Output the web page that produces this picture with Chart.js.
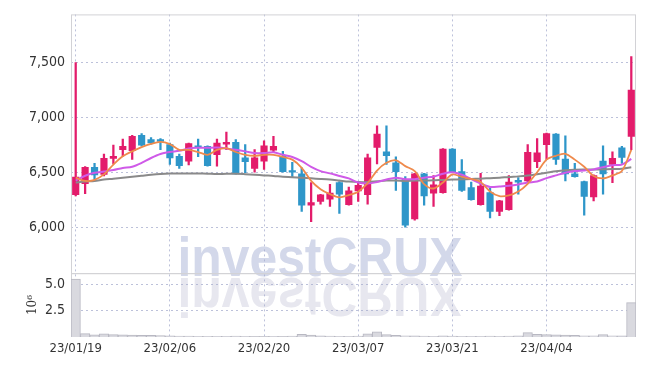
<!DOCTYPE html>
<html><head><meta charset="utf-8">
<script src="https://cdn.jsdelivr.net/npm/chart.js@4/dist/chart.umd.min.js"></script>
<style>html,body{margin:0;padding:0;background:#fff}</style>
</head><body>
<canvas id="c" width="645" height="366" style="display:block;width:645px;height:366px"></canvas>
<script>
// ---------- data ----------
const dates = ['23/01/19','23/01/20','23/01/25','23/01/26','23/01/27','23/01/30','23/01/31','23/02/01','23/02/02','23/02/03',
 '23/02/06','23/02/07','23/02/08','23/02/09','23/02/10','23/02/13','23/02/14','23/02/15','23/02/16','23/02/17',
 '23/02/20','23/02/21','23/02/22','23/02/23','23/02/24','23/02/27','23/02/28','23/03/02','23/03/03','23/03/06',
 '23/03/07','23/03/08','23/03/09','23/03/10','23/03/13','23/03/14','23/03/15','23/03/16','23/03/17','23/03/20',
 '23/03/21','23/03/22','23/03/23','23/03/24','23/03/27','23/03/28','23/03/29','23/03/30','23/03/31','23/04/03',
 '23/04/04','23/04/05','23/04/06','23/04/07','23/04/10','23/04/11','23/04/12','23/04/13','23/04/14','23/04/17'];

const open = [6300,6400,6550,6485,6630,6710,6700,6840,6800,6800, 6755,6650,6605,6745,6740,6665,6760,6775,6635,6540,
 6605,6705,6650,6515,6490,6205,6240,6260,6410,6210, 6335,6300,6730,6690,6590,6440,6080,6490,6315,6320,
 6715,6510,6365,6210,6320,6150,6165,6430,6425,6600, 6755,6850,6625,6490,6420,6280,6605,6575,6725,6830];
const close = [6460,6550,6480,6630,6650,6740,6830,6750,6770,6785, 6635,6565,6765,6730,6565,6770,6775,6490,6600,6635,
 6745,6740,6510,6505,6205,6230,6300,6315,6305,6335, 6385,6635,6850,6655,6510,6025,6490,6290,6390,6715,
 6505,6340,6255,6380,6150,6245,6415,6415,6685,6680, 6855,6620,6490,6465,6285,6475,6490,6630,6640,7250];
const high = [7500,6555,6585,6670,6750,6805,6840,6855,6820,6810, 6770,6670,6770,6805,6745,6805,6870,6800,6755,6710,
 6790,6830,6695,6595,6545,6410,6305,6395,6420,6370, 6410,6670,6925,6925,6645,6465,6495,6495,6475,6720,
 6720,6620,6415,6495,6360,6250,6475,6455,6755,6810, 6860,6855,6835,6585,6425,6480,6745,6690,6740,7555];
const low = [6290,6310,6440,6470,6580,6650,6620,6740,6760,6710, 6575,6540,6570,6645,6560,6560,6710,6488,6500,6505,
 6530,6685,6505,6455,6150,6055,6215,6195,6130,6205, 6240,6215,6580,6575,6340,6005,6070,6205,6195,6315,
 6510,6330,6250,6205,6090,6110,6160,6305,6420,6545, 6620,6575,6425,6460,6115,6245,6305,6410,6585,6710];

const ma5 = [6455,6426,6435,6485,6574,6649,6694,6732,6762,6780, 6760,6708,6708,6688,6663,6708,6723,6688,6663,6654,
 6663,6663,6643,6619,6545,6426,6351,6306,6277,6297, 6328,6405,6520,6590,6613,6560,6515,6397,6357,6411,
 6485,6462,6444,6416,6330,6288,6295,6330,6400,6505, 6619,6654,6672,6619,6554,6471,6449,6476,6515,6708];
const ma20 = [6429,6473,6500,6511,6524,6543,6554,6589,6634,6670, 6688,6699,6721,6726,6726,6728,6721,6708,6694,6679,
 6679,6685,6663,6643,6605,6554,6515,6494,6471,6449, 6411,6402,6415,6438,6455,6442,6442,6455,6464,6491,
 6504,6482,6442,6402,6371,6375,6381,6393,6411,6420, 6451,6476,6500,6515,6521,6530,6551,6569,6574,6625];
const ma60 = [6411,6420,6426,6438,6446,6455,6464,6473,6482,6489, 6493,6494,6494,6493,6491,6488,6491,6491,6487,6482,
 6476,6471,6464,6460,6455,6449,6444,6438,6429,6420, 6415,6415,6422,6429,6429,6426,6429,6429,6431,6435,
 6438,6440,6444,6446,6451,6455,6462,6467,6475,6487, 6500,6513,6522,6527,6529,6530,6531,6533,6536,6549];

const volume = [5530000,320000,200000,300000,220000,200000,180000,150000,150000,130000,
 100000,80000,80000,70000,70000,60000,70000,80000,60000,50000,
 50000,60000,50000,80000,250000,180000,100000,80000,70000,60000,
 80000,300000,500000,220000,150000,120000,100000,80000,70000,100000,
 80000,70000,60000,60000,80000,60000,80000,100000,420000,250000,
 220000,200000,180000,150000,120000,120000,220000,120000,100000,3290000];

const priceTicks = [6000, 6500, 7000, 7500];
const volumeTicks = [2500000, 5000000];

// ---------- styling ----------
const PINK = '#e31c6b', BLUE = '#2e96c9';
const GRID = 'rgba(165,172,205,0.75)';
const FONT = '"DejaVu Sans Condensed", "Liberation Sans", sans-serif';
const candleColors = close.map((c, i) => c >= open[i] ? PINK : BLUE);

const watermark = {
  id: 'wm',
  beforeDraw(chart) {
    const ctx = chart.ctx;
    ctx.save();
    ctx.fillStyle = '#fff';
    ctx.fillRect(0, 0, chart.width, chart.height);
    const text = 'investCRUX';
    ctx.font = 'bold 56px "Liberation Sans", Arial, sans-serif';
    const w = ctx.measureText(text).width;
    const sx = 285 / w;
    ctx.textAlign = 'center';
    ctx.textBaseline = 'alphabetic';
    ctx.save(); ctx.translate(320, 276); ctx.scale(sx, 1);
    ctx.fillStyle = '#d3d8ea'; ctx.fillText(text, 0, 0); ctx.restore();
    ctx.save(); ctx.translate(320, 278); ctx.scale(sx, -1);
    ctx.fillStyle = '#e7e7ef'; ctx.fillText(text, 0, 0); ctx.restore();
    ctx.restore();
  }
};

const boxes = {
  id: 'boxes',
  beforeDatasetsDraw(chart) {
    const {ctx, chartArea} = chart;
    const y = chart.scales.y, y2 = chart.scales.y2;
    ctx.save();
    ctx.strokeStyle = '#d2d2d6';
    ctx.lineWidth = 1;
    ctx.strokeRect(chartArea.left + 0.5, y.top + 0.5, chartArea.right - chartArea.left - 1, y.bottom - y.top);
    ctx.strokeRect(chartArea.left + 0.5, y2.top + 0.5, chartArea.right - chartArea.left - 1, y2.bottom - y2.top - 1);
    ctx.restore();
  }
};

new Chart(document.getElementById('c'), {
  type: 'bar',
  data: {
    labels: dates,
    datasets: [
      {type: 'line', data: ma5, yAxisID: 'y', borderColor: '#ef8a4c', borderWidth: 1.8, pointRadius: 0, tension: 0.3, order: 1},
      {type: 'line', data: ma20, yAxisID: 'y', borderColor: '#cf5ae8', borderWidth: 2, pointRadius: 0, tension: 0.3, order: 2},
      {type: 'line', data: ma60, yAxisID: 'y', borderColor: '#8a8a8a', borderWidth: 2, pointRadius: 0, tension: 0.3, order: 3},
      {data: open.map((o, i) => [o, close[i]]), yAxisID: 'y', backgroundColor: candleColors, barThickness: 6.5, grouped: false, minBarLength: 1.5, order: 4},
      {data: low.map((l, i) => [l, high[i]]), yAxisID: 'y', backgroundColor: candleColors, barThickness: 1.6, grouped: false, order: 5},
      {data: volume, yAxisID: 'y2', backgroundColor: '#d9d9df', borderColor: '#b8b8c2', borderWidth: 1, barPercentage: 1, categoryPercentage: 1, grouped: false, order: 6}
    ]
  },
  options: {
    responsive: false, animation: false, devicePixelRatio: 1, events: [],
    layout: {padding: {top: 9, right: 9, left: 0, bottom: 0}},
    plugins: {legend: {display: false}, tooltip: {enabled: false}},
    scales: {
      x: {
        type: 'category', offset: true,
        grid: {offset: false, color: GRID, drawTicks: false},
        border: {display: false, dash: [2, 3]},
        ticks: {autoSkip: false, maxRotation: 0, padding: 4, color: '#333', font: {family: FONT, size: 13}},
        afterBuildTicks: s => { s.ticks = s.ticks.filter(t => t.value % 10 === 0); },
        afterFit: s => { s.height = 29; }
      },
      y: {
        type: 'linear', position: 'left', stack: 'p', stackWeight: 4.05, weight: 1,
        min: 5589, max: 7937,
        grid: {color: GRID, drawTicks: false},
        border: {display: false, dash: [2, 3]},
        afterBuildTicks: s => { s.ticks = priceTicks.map(v => ({value: v})); },
        ticks: {padding: 6, color: '#333', font: {family: FONT, size: 14}, callback: v => v.toLocaleString('en-US')},
        afterFit: s => { s.width = 71; }
      },
      y2: {
        type: 'linear', position: 'left', stack: 'p', stackWeight: 1, weight: 0,
        min: 0, max: 6100000,
        grid: {color: GRID, drawTicks: false},
        border: {display: false, dash: [2, 3]},
        afterBuildTicks: s => { s.ticks = volumeTicks.map(v => ({value: v})); },
        ticks: {padding: 6, color: '#333', font: {family: FONT, size: 14}, callback: v => (v / 1e6).toFixed(1)},
        title: {display: true, text: '10⁶', color: '#333', font: {family: '"DejaVu Serif", serif', size: 12}, padding: {top: 26, bottom: 0}},
        afterFit: s => { s.width = 71; }
      }
    }
  },
  plugins: [watermark, boxes]
});
</script>
</body></html>
